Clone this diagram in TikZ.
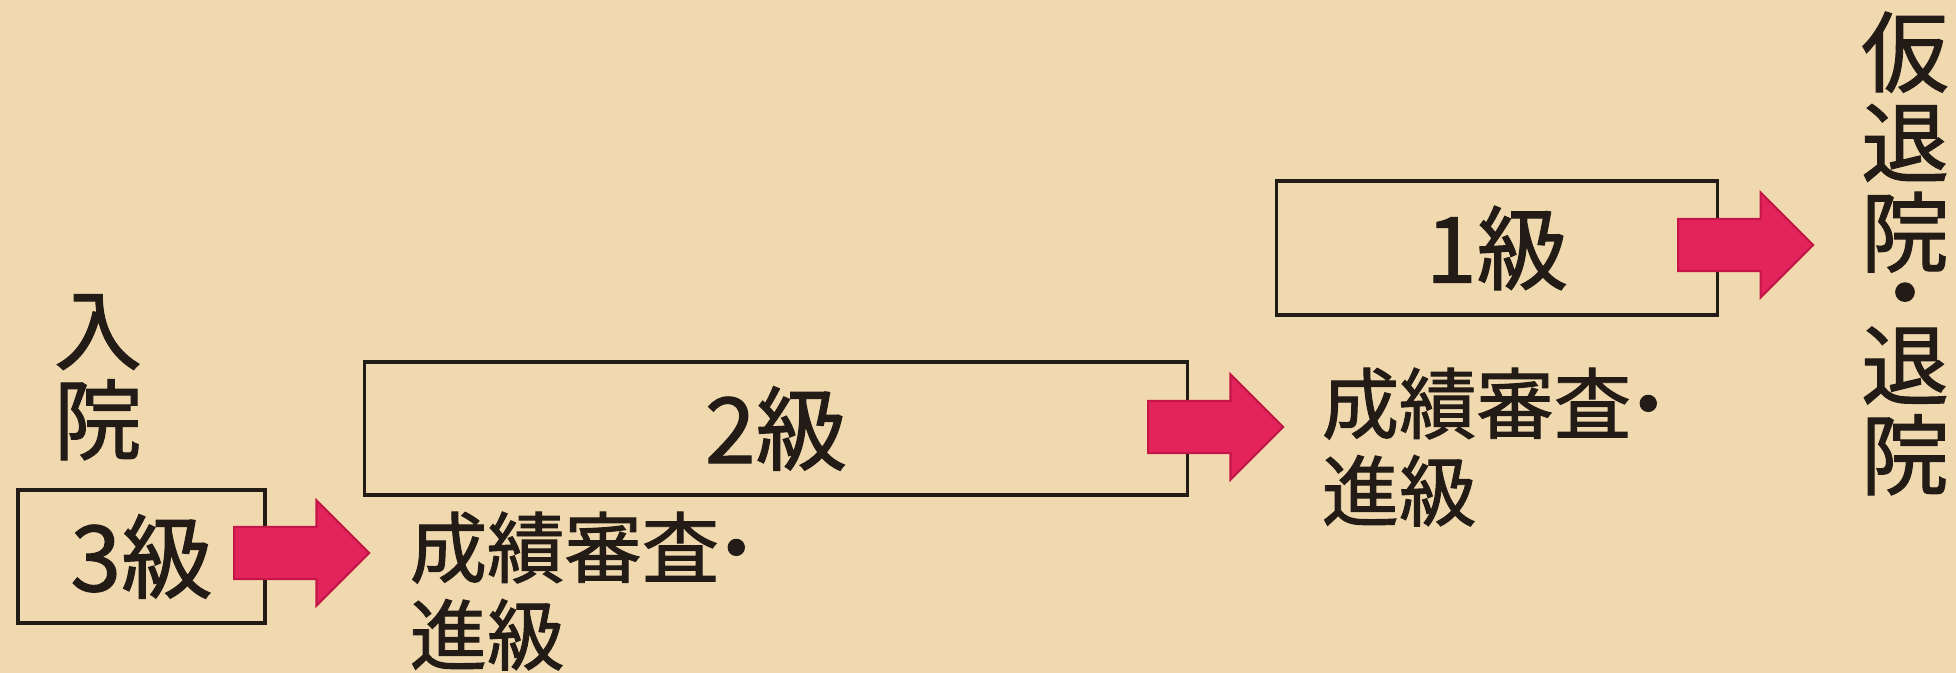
\documentclass[tikz,border=0pt]{standalone}
\usepackage{fontspec}
\newfontfamily\jpfont{Noto Sans CJK JP}[FakeBold=1.2]
\usetikzlibrary{shapes.arrows}

\definecolor{paper}{RGB}{240,216,175}
\definecolor{arrowpink}{RGB}{226,36,90}
\definecolor{arrowedge}{RGB}{196,22,72}
\definecolor{ink}{RGB}{35,28,22}

\newcommand{\middot}{\hspace{-0.28em}・}

\tikzset{
  gradebox/.style={draw=ink, line width=0.9pt, inner sep=0, text=ink,
    font=\jpfont\fontsize{26pt}{26pt}\selectfont},
  steplabel/.style={anchor=base west, inner sep=0, align=left, text=ink,
    font=\jpfont\fontsize{22pt}{24.8pt}\selectfont},
  bigchar/.style={inner sep=0, text=ink, font=\jpfont\fontsize{25pt}{25.6pt}\selectfont},
  passarrow/.style={single arrow, fill=arrowpink, draw=arrowedge, line width=0.6pt,
    minimum height=1.35cm, single arrow head extend=0.265cm,
    inner xsep=0, inner ysep=0.25cm, anchor=tail}
}

\begin{document}
\begin{tikzpicture}[x=0.01cm, y=-0.01cm]

          \fill[paper] (0,0) rectangle (1956,673);
          \useasboundingbox (0,0) rectangle (1956,673);

          \node[bigchar, align=center, anchor=base] (entry) at (98,453) {入\\院};

          \node[gradebox, minimum width=2.47cm, minimum height=1.33cm] (grade3) at (141.5,556.5) {3級};
          \node[gradebox, minimum width=8.22cm, minimum height=1.33cm] (grade2) at (776,428.5) {2級};
          \node[gradebox, minimum width=4.40cm, minimum height=1.34cm] (grade1) at (1497,248) {1級};

          \node[passarrow] (pass3) at (233,553) {};
          \node[passarrow] (pass2) at (1147,427) {};
          \node[passarrow] (pass1) at (1677,245) {};

          \node[steplabel] (review3) at (409,664) {成績審査\middot\\進級};
          \node[steplabel] (review2) at (1321,520) {成績審査\middot\\進級};

          \node[bigchar, align=center, anchor=base] (exit) at (1905,488)
            {仮\\退\\院\\[-8.5pt]・\\[-5pt]退\\院};

\end{tikzpicture}
\end{document}
